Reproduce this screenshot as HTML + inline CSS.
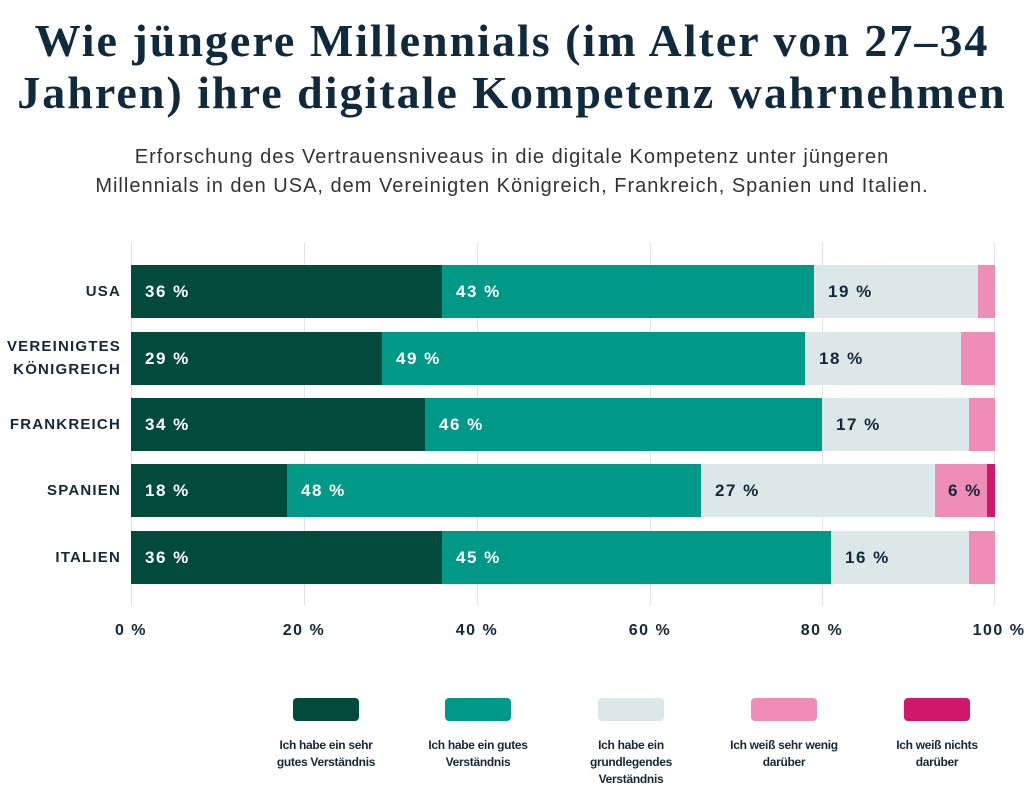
<!DOCTYPE html><html><head><meta charset="utf-8"><style>
body{margin:0;width:1024px;height:783px;background:#fff;position:relative;overflow:hidden;font-family:"Liberation Sans",sans-serif;color:#13283a}
.a{position:absolute}
.t{left:-20px;width:1064px;text-align:center;font-family:"Liberation Serif",serif;font-weight:bold;font-size:46px;color:#0f2a3d;letter-spacing:2px;white-space:nowrap}
.s{left:-20px;width:1064px;text-align:center;font-size:20px;letter-spacing:1px;color:#333;white-space:nowrap}
.g{width:1px;top:243px;height:362px;background:#dde3e6}
.seg{height:53px}
.bl{font-weight:bold;font-size:17px;letter-spacing:1.5px;line-height:53px;padding-left:14px;box-sizing:border-box;white-space:nowrap}
.w{color:#fff}.d{color:#13283a}
.cl{right:903px;text-align:right;font-weight:bold;font-size:15px;letter-spacing:1.2px;line-height:23px}
.tk{top:622px;font-weight:bold;font-size:16px;letter-spacing:1.5px;width:80px;text-align:center}
.sw{top:698px;width:66px;height:23px;border-radius:4px}
.lg{top:737px;width:150px;text-align:center;font-weight:bold;font-size:12px;letter-spacing:-0.3px;line-height:17px}
</style></head><body>
<div class="a t" style="top:14px">Wie jüngere Millennials (im Alter von 27–34</div>
<div class="a t" style="top:66px">Jahren) ihre digitale Kompetenz wahrnehmen</div>
<div class="a s" style="top:146px">Erforschung des Vertrauensniveaus in die digitale Kompetenz unter jüngeren</div>
<div class="a s" style="top:175px">Millennials in den USA, dem Vereinigten Königreich, Frankreich, Spanien und Italien.</div>
<div class="a g" style="left:131px"></div><div class="a g" style="left:304px"></div><div class="a g" style="left:477px"></div><div class="a g" style="left:650px"></div><div class="a g" style="left:822px"></div><div class="a g" style="left:994px"></div>

<div class="a cl" style="top:280px">USA</div>
<div class="a seg bl w" style="top:265px;left:131px;width:311px;background:#024b3c">36 %</div>
<div class="a seg bl w" style="top:265px;left:442px;width:372px;background:#009886">43 %</div>
<div class="a seg bl d" style="top:265px;left:814px;width:164px;background:#dce8e7">19 %</div>
<div class="a seg" style="top:265px;left:978px;width:17px;background:#ee8eb7"></div>

<div class="a cl" style="top:335px">VEREINIGTES<br>KÖNIGREICH</div>
<div class="a seg bl w" style="top:332px;left:131px;width:251px;background:#024b3c">29 %</div>
<div class="a seg bl w" style="top:332px;left:382px;width:423px;background:#009886">49 %</div>
<div class="a seg bl d" style="top:332px;left:805px;width:156px;background:#dce8e7">18 %</div>
<div class="a seg" style="top:332px;left:961px;width:34px;background:#ee8eb7"></div>

<div class="a cl" style="top:413px">FRANKREICH</div>
<div class="a seg bl w" style="top:398px;left:131px;width:294px;background:#024b3c">34 %</div>
<div class="a seg bl w" style="top:398px;left:425px;width:397px;background:#009886">46 %</div>
<div class="a seg bl d" style="top:398px;left:822px;width:147px;background:#dce8e7">17 %</div>
<div class="a seg" style="top:398px;left:969px;width:26px;background:#ee8eb7"></div>

<div class="a cl" style="top:479px">SPANIEN</div>
<div class="a seg bl w" style="top:464px;left:131px;width:156px;background:#024b3c">18 %</div>
<div class="a seg bl w" style="top:464px;left:287px;width:414px;background:#009886">48 %</div>
<div class="a seg bl d" style="top:464px;left:701px;width:234px;background:#dce8e7">27 %</div>
<div class="a seg bl d" style="top:464px;left:935px;width:52px;background:#ee8eb7;padding-left:13px">6 %</div>
<div class="a seg" style="top:464px;left:987px;width:8px;background:#d0176a"></div>

<div class="a cl" style="top:546px">ITALIEN</div>
<div class="a seg bl w" style="top:531px;left:131px;width:311px;background:#024b3c">36 %</div>
<div class="a seg bl w" style="top:531px;left:442px;width:389px;background:#009886">45 %</div>
<div class="a seg bl d" style="top:531px;left:831px;width:138px;background:#dce8e7">16 %</div>
<div class="a seg" style="top:531px;left:969px;width:26px;background:#ee8eb7"></div>

<div class="a tk" style="left:91px">0 %</div><div class="a tk" style="left:264px">20 %</div><div class="a tk" style="left:437px">40 %</div><div class="a tk" style="left:610px">60 %</div><div class="a tk" style="left:782px">80 %</div><div class="a tk" style="left:959px">100 %</div>

<div class="a sw" style="left:293px;background:#024b3c"></div>
<div class="a sw" style="left:445px;background:#009886"></div>
<div class="a sw" style="left:598px;background:#dce8e7"></div>
<div class="a sw" style="left:751px;background:#ee8eb7"></div>
<div class="a sw" style="left:904px;background:#d0176a"></div>
<div class="a lg" style="left:251px">Ich habe ein sehr<br>gutes Verständnis</div>
<div class="a lg" style="left:403px">Ich habe ein gutes<br>Verständnis</div>
<div class="a lg" style="left:556px">Ich habe ein<br>grundlegendes<br>Verständnis</div>
<div class="a lg" style="left:709px">Ich weiß sehr wenig<br>darüber</div>
<div class="a lg" style="left:862px">Ich weiß nichts<br>darüber</div>
</body></html>
